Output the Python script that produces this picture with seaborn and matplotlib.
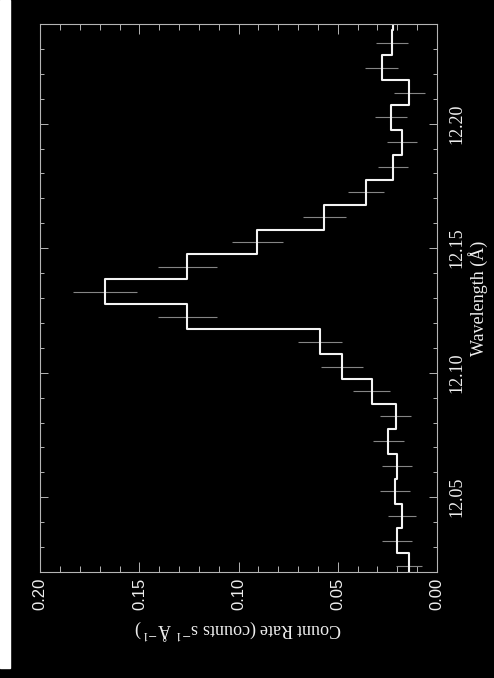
import numpy as np
import pandas as pd
import matplotlib
matplotlib.use("Agg")
import matplotlib.pyplot as plt
import seaborn as sns
from matplotlib.ticker import MultipleLocator
from matplotlib.patches import Rectangle

# spectrum bins (Angstrom) and count rates
wave_centers = [12.0225, 12.0325, 12.0425, 12.0525, 12.0625, 12.0725, 12.0825,
                12.0925, 12.1025, 12.1125, 12.1225, 12.1325, 12.1425, 12.1525,
                12.1625, 12.1725, 12.1825, 12.1925, 12.2025, 12.2125, 12.2225,
                12.2325, 12.2425]
count_rate = [0.0141, 0.0200, 0.0178, 0.0212, 0.0203, 0.0245, 0.0208,
              0.0329, 0.0480, 0.0590, 0.1258, 0.1673, 0.1258, 0.0905,
              0.0568, 0.0359, 0.0223, 0.0178, 0.0233, 0.0139, 0.0279,
              0.0228, 0.0222]
count_err = [0.0065, 0.0076, 0.0071, 0.0077, 0.0076, 0.0077, 0.0077,
             0.0092, 0.0105, 0.0112, 0.0147, 0.0163, 0.0147, 0.0128,
             0.0107, 0.0090, 0.0076, 0.0076, 0.0080, 0.0080, 0.0084,
             0.0082, 0.0080]
bin_width = 0.01
wave_ticks = [12.05, 12.10, 12.15, 12.20]
rate_ticks = [0.00, 0.05, 0.10, 0.15, 0.20]

df = pd.DataFrame({"wavelength": wave_centers, "rate": count_rate, "err": count_err})
edges = [w - bin_width / 2 for w in wave_centers] + [wave_centers[-1] + bin_width / 2]

sns.set_style("ticks")
plt.rcParams["font.family"] = ["Liberation Serif", "DejaVu Serif"]
plt.rcParams["mathtext.fontset"] = "stix"

frame_col = "#b4b4b4"
text_col = "#eeeeee"

fig = plt.figure(figsize=(4.94, 6.78), dpi=100, facecolor="black")
fig.patches.append(Rectangle((0, 10 / 678), 10 / 494, 668 / 678,
                             transform=fig.transFigure, color="white", zorder=0))
ax = fig.add_axes([40.3 / 494, 106 / 678, 396.7 / 494, 548 / 678])
ax.set_facecolor("black")

# the plot is drawn turned on its side: wavelength runs upward
sns.histplot(data=df, y="wavelength", weights="rate", bins=edges,
             element="step", fill=False, color="#f4f4f4", linewidth=1.5, ax=ax)
ax.errorbar(df["rate"], df["wavelength"], xerr=df["err"], fmt="none",
            ecolor="#858585", elinewidth=0.8, capsize=0, zorder=1)

ax.set_xlim(0.20, 0.0)
ax.set_ylim(12.02, 12.24)

ax.set_xticks(rate_ticks)
ax.set_xticklabels([f"{t:.2f}" for t in rate_ticks])
ax.xaxis.set_minor_locator(MultipleLocator(0.01))
ax.set_yticks(wave_ticks)
ax.set_yticklabels([f"{t:.2f}" for t in wave_ticks])
ax.yaxis.set_minor_locator(MultipleLocator(0.01))

for s in ax.spines.values():
    s.set_visible(True)
    s.set_color(frame_col)
    s.set_linewidth(0.8)

ax.tick_params(axis="x", which="both", direction="in", top=True, bottom=True,
               color=frame_col, width=0.7, labelcolor=text_col)
ax.tick_params(axis="x", which="major", length=7, pad=4, labelsize=12, labelrotation=90)
ax.tick_params(axis="x", which="minor", length=4.5)
ax.tick_params(axis="y", which="both", direction="in", left=True, right=True,
               labelleft=False, labelright=True, color=frame_col, width=0.7,
               labelcolor=text_col)
ax.tick_params(axis="y", which="major", length=5.5, pad=8, labelsize=13, labelrotation=90)
ax.tick_params(axis="y", which="minor", length=3)

for lbl in ax.get_xticklabels():
    lbl.set_family(["Liberation Sans", "DejaVu Sans"])
for lbl in ax.get_yticklabels():
    lbl.set_va("center")

ax.set_xlabel("Count Rate (counts s$^{-1}$ Å$^{-1}$)", color=text_col,
              fontsize=13, rotation=180, labelpad=6)
ax.yaxis.set_label_position("right")
ax.set_ylabel("Wavelength (Å)", color=text_col, fontsize=13, rotation=90, labelpad=2)

fig.savefig("out.png", dpi=100, facecolor="black")
